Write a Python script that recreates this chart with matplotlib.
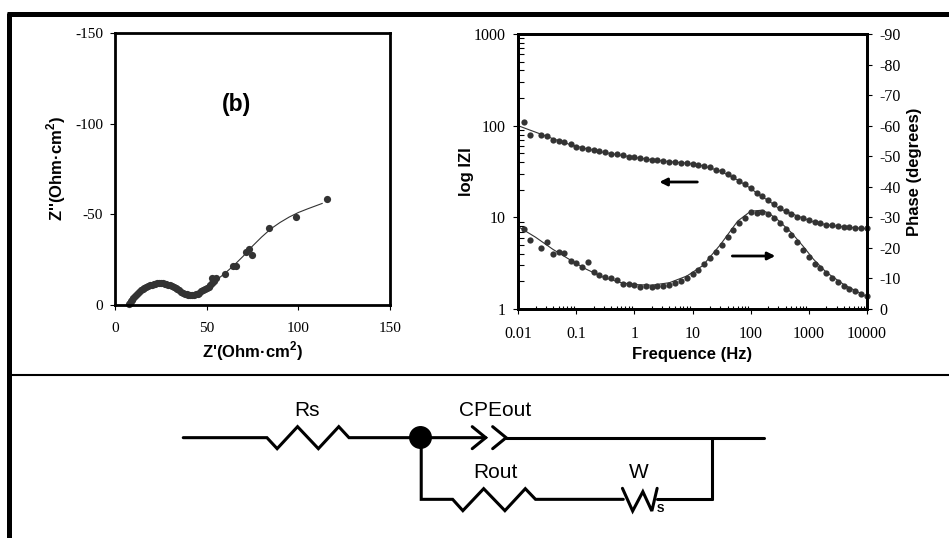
import matplotlib
matplotlib.use('Agg')
import matplotlib.pyplot as plt
from matplotlib.ticker import NullFormatter

serif = 'Liberation Serif'
sans = 'Liberation Sans'
plt.rcParams['axes.unicode_minus'] = False
plt.rcParams['mathtext.fontset'] = 'custom'
plt.rcParams['mathtext.bf'] = 'Liberation Sans:bold'
W, H = 949, 538
dark = '#333333'

# Nyquist
zre = [7.5, 8, 8.5, 9, 10, 11, 12, 13, 14, 15, 16, 17, 18, 19, 20, 21, 22, 23, 24, 25, 26, 27, 28, 29, 30,
       31, 32, 33, 34, 35, 36, 37, 38, 39, 40, 41, 42, 43, 44, 45, 46, 47, 48, 49, 50, 51, 52, 53, 54, 53,
       55, 60, 64.5, 66, 71.5, 73, 74.5, 84, 98.5, 115.5]
zim = [-0.5, -1, -2, -3, -4, -5, -6.3, -7.3, -8, -9, -9.6, -10, -10.5, -11, -11.3, -11.6, -11.8, -12, -12, -12,
       -12, -11.8, -11.5, -11.2, -10.8, -10.3, -9.7, -9.2, -8.6, -8, -7.4, -6.8, -6.3, -5.9, -5.6, -5.4, -5.4,
       -5.5, -5.8, -6.2, -6.8, -7.5, -8.2, -8.8, -9.3, -10, -11, -12, -13, -15, -15, -17, -21.5, -21.5, -29,
       -31, -27.5, -42.5, -48.5, -58.5]
fit_re = [7, 9, 12, 16, 20, 24, 28, 32, 36, 40, 44, 50, 55, 60, 65, 70, 75, 80, 85, 90, 95, 100, 105, 113]
fit_im = [0, -3, -6.3, -9.6, -11.3, -12, -11.5, -9.7, -7.4, -5.6, -5.8, -9.8, -13.5, -17.5, -22, -27, -32.5,
          -37.5, -42, -45.5, -48.5, -51, -53, -56]

# Bode
freq = [0.0126, 0.0158, 0.025, 0.0316, 0.04, 0.05, 0.063, 0.08, 0.1, 0.126, 0.158, 0.2, 0.25, 0.316, 0.4, 0.5,
        0.63, 0.8, 1, 1.26, 1.58, 2, 2.5, 3.16, 4, 5, 6.3, 8, 10, 12.6, 15.8, 20, 25, 31.6, 40, 50, 63, 80, 100,
        126, 158, 200, 250, 316, 400, 500, 630, 800, 1000, 1260, 1580, 2000, 2500, 3160, 4000, 5000, 6300, 8000,
        10000]
modz = [110, 80, 79, 77, 69, 68, 67, 63, 58, 57, 56, 54.5, 53, 51, 49, 48.5, 48, 46, 45, 44, 43, 42.5, 42, 41,
        40.5, 40, 39.5, 39, 38, 37.5, 36, 35, 33, 32, 30, 27.5, 25, 23, 20.7, 18.6, 17, 15.3, 13.9, 12.6, 11.7,
        11, 10.2, 9.8, 9.3, 8.8, 8.6, 8.3, 8.2, 8, 7.85, 7.8, 7.7, 7.65, 7.6]
phase = [-26.3, -22.7, -20, -22, -18, -18.5, -18.2, -15.7, -15, -13.6, -15.5, -12.2, -11.1, -10.4, -10, -9.4,
         -8.1, -8.1, -7.7, -7.3, -7.5, -7.3, -7.4, -7.6, -8, -8.5, -9.3, -10.3, -11.3, -12.9, -14.6, -16.6,
         -18.8, -21, -23.6, -26, -28.3, -29.9, -31.6, -31.4, -31.6, -31, -29.9, -28.1, -26.3, -24.1, -21.8,
         -19.4, -17.1, -14.8, -13.3, -11.7, -10.3, -8.8, -7.6, -6.7, -5.8, -5, -4.3]
fit_f = [0.01, 0.02, 0.04, 0.08, 0.15, 0.3, 0.6, 1, 2, 4, 8, 15, 30, 60, 100, 150, 200, 300, 500, 800, 1200, 2000,
         4000, 10000]
fit_mod = [100, 85, 72, 62, 56, 51, 47.5, 45, 42.5, 40.5, 39, 36.5, 32, 25.5, 20.7, 17, 15.3, 12.6, 11, 9.8, 8.9,
           8.3, 7.85, 7.5]
fit_ph = [-27, -23.5, -19.5, -16, -13, -10.3, -8.6, -8, -7.8, -8.6, -10.8, -14.2, -21, -28.8, -32, -32.3, -31.5,
          -29, -25, -20.5, -16.3, -12, -8, -4]

ny_xticks = [0, 50, 100, 150]
ny_yticks = [0, -50, -100, -150]
ph_ticks = [0, -10, -20, -30, -40, -50, -60, -70, -80, -90]
f_ticks = [0.01, 0.1, 1, 10, 100, 1000, 10000]
f_labels = ['0.01', '0.1', '1', '10', '100', '1000', '10000']
z_ticks = [1, 10, 100, 1000]
z_labels = ['1', '10', '100', '1000']


def pos(x0, y0, x1, y1):
    return [x0 / W, 1 - y1 / H, (x1 - x0) / W, (y1 - y0) / H]


fig = plt.figure(figsize=(W / 100, H / 100), dpi=100)

# frame and circuit, in pixels
bg = fig.add_axes([0, 0, 1, 1])
bg.set_xlim(0, W)
bg.set_ylim(H, 0)
bg.axis('off')
bg.plot([9.5, 9.5], [H, 13], color='k', lw=3.6, solid_capstyle='butt')
bg.plot([7.5, W], [13.5, 13.5], color='k', lw=3.6, solid_capstyle='butt')
bg.plot([9, W], [374.5, 374.5], color='k', lw=1.5, solid_capstyle='butt')


def wire(zx, zy, lw=2.2):
    # coordinates
    bg.plot([160 + x / 2.45 for x in zx], [370 + y / 3 for y in zy], color='k', lw=lw,
            solid_capstyle='round', solid_joinstyle='miter')


wire([57, 262, 287, 337, 388, 438, 463, 798], [203, 203, 236, 170, 236, 170, 203, 203])
wire([765, 798, 765], [170, 203, 236])
wire([815, 848, 815], [170, 203, 236])
wire([848, 1480], [203, 203])
wire([1352, 1352], [203, 388])
wire([640, 640, 717, 742, 793, 845, 895, 920, 1135], [203, 388, 388, 422, 356, 422, 356, 388, 388])
wire([1133, 1158, 1183, 1205, 1218], [355, 423, 365, 423, 355])
wire([1218, 1352], [388, 388])
bg.plot([160 + 638 / 2.45], [370 + 200 / 3], 'o', color='k', ms=15.5)
for s, zx, zy in [('Rs', 360, 122), ('CPEout', 820, 122), ('Rout', 822, 308), ('W', 1172, 308)]:
    bg.text(160 + zx / 2.45, 370 + zy / 3, s, family=sans, fontsize=15, ha='center', va='center')
bg.text(160 + 1225 / 2.45, 370 + 418 / 3, 'S', family=sans, fontweight='bold', fontsize=8, ha='center', va='center')

# arrows on the Bode plot
bg.annotate('', xy=(450 + 628 / 3, 182), xytext=(450 + 742 / 3, 182),
            arrowprops=dict(arrowstyle='-|>', color='k', lw=2, shrinkA=0, shrinkB=0, mutation_scale=11))
bg.annotate('', xy=(450 + 976 / 3, 256), xytext=(450 + 847 / 3, 256),
            arrowprops=dict(arrowstyle='-|>', color='k', lw=2, shrinkA=0, shrinkB=0, mutation_scale=11))

# Nyquist plot
ax = fig.add_axes(pos(115, 33, 390, 305))
ax.patch.set_alpha(0)
ax.plot(fit_re, fit_im, color=dark, lw=0.8)
ax.plot(zre, zim, 'o', color=dark, ms=5.2, mew=0, clip_on=False)
ax.set_xlim(0, 150)
ax.set_ylim(0, -150)
ax.set_xticks(ny_xticks)
ax.set_yticks(ny_yticks)
ax.tick_params(length=3.6, width=0.8, labelsize=11, pad=5)
ax.tick_params(axis='x', pad=9)
for lab in ax.get_xticklabels() + ax.get_yticklabels():
    lab.set_family(serif)
for sp in ax.spines.values():
    sp.set_linewidth(2)
ax.set_xlabel("Z'(Ohm\u00b7cm$^\\mathbf{2}$)", family=sans, fontweight='bold', fontsize=12, labelpad=3)
ax.set_ylabel("Z''(Ohm\u00b7cm$^\\mathbf{2}$)", family=sans, fontweight='bold', fontsize=12, labelpad=5)
ax.text(237, 105, '(b)', transform=bg.transData, family=sans, fontweight='bold', fontsize=16.5,
        ha='center', va='center')

# Bode plot
ax1 = fig.add_axes(pos(518, 34, 867, 309))
ax1.patch.set_alpha(0)
ax1.plot(fit_f, fit_mod, color=dark, lw=0.8)
ax1.plot(freq, modz, 'o', color=dark, ms=4.5, mew=0, clip_on=False)
ax1.set_xscale('log')
ax1.set_yscale('log')
ax1.set_xlim(0.01, 10000)
ax1.set_ylim(1, 1000)
ax1.set_xticks(f_ticks, f_labels)
ax1.set_yticks(z_ticks, z_labels)
ax1.tick_params(which='major', length=3.6, width=0.8, labelsize=11.5, pad=5)
ax1.tick_params(axis='x', which='major', pad=9)
ax1.tick_params(axis='x', which='minor', direction='in', length=2.5, width=0.8, top=False)
ax1.tick_params(axis='y', which='minor', direction='in', length=4, width=0.8)
ax1.minorticks_on()
ax1.xaxis.set_minor_formatter(NullFormatter())
ax1.yaxis.set_minor_formatter(NullFormatter())
for lab in ax1.get_xticklabels() + ax1.get_yticklabels():
    lab.set_family(serif)
ax1.set_xlabel('Frequence (Hz)', family=sans, fontweight='bold', fontsize=12, labelpad=3)
ax1.set_ylabel('log IZI', family=sans, fontweight='bold', fontsize=12, labelpad=0)

ax2 = ax1.twinx()
ax2.plot(fit_f, fit_ph, color=dark, lw=0.8)
ax2.plot(freq, phase, 'o', color=dark, ms=4.5, mew=0, clip_on=False)
ax2.set_ylim(0, -90)
ax2.set_yticks(ph_ticks)
ax2.tick_params(length=3.6, width=0.8, labelsize=11.5, pad=5)
for lab in ax2.get_yticklabels():
    lab.set_family(serif)
ax2.set_ylabel('Phase (degrees)', family=sans, fontweight='bold', fontsize=12, labelpad=5)
for a in (ax1, ax2):
    for sp in a.spines.values():
        sp.set_linewidth(2)

fig.savefig('out.png', dpi=100)
